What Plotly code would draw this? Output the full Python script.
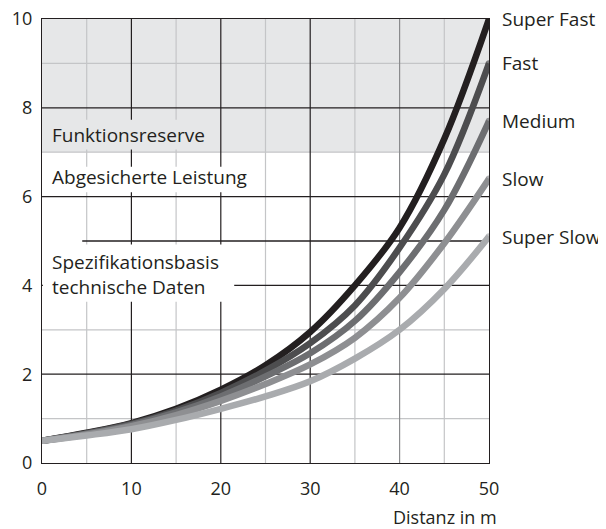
import plotly.graph_objects as go

# ---- data ----
distance = [0, 5, 10, 15, 20, 25, 30, 35, 40, 45, 50]
series_names = ["Super Fast", "Fast", "Medium", "Slow", "Super Slow"]
super_fast = [0.5, 0.68, 0.90, 1.22, 1.65, 2.20, 2.95, 4.00, 5.30, 7.30, 10.0]
fast       = [0.5, 0.67, 0.88, 1.18, 1.58, 2.08, 2.70, 3.55, 4.85, 6.50, 9.0]
medium     = [0.5, 0.66, 0.86, 1.14, 1.50, 1.95, 2.47, 3.20, 4.30, 5.70, 7.7]
slow       = [0.5, 0.64, 0.83, 1.08, 1.40, 1.78, 2.22, 2.82, 3.72, 4.95, 6.4]
super_slow = [0.5, 0.62, 0.76, 0.97, 1.22, 1.50, 1.84, 2.35, 3.00, 3.92, 5.1]
series_values = [super_fast, fast, medium, slow, super_slow]

x_ticks = [0, 10, 20, 30, 40, 50]
y_ticks = [0, 2, 4, 6, 8, 10]
x_minor = [5, 15, 25, 35, 45]
y_minor = [1, 3, 7, 9]

# ---- styles ----
colors = ["#231f20", "#4d4d4f", "#6d6e71", "#8e8f92", "#a9abae"]
dark = "#231f20"
FONT = "Open Sans"
FS = 19
TFS = 18

fig = go.Figure()

for name, vals, col in zip(series_names, series_values, colors):
    n = len(vals)
    fig.add_trace(go.Scatter(
        x=distance, y=vals, name=name, mode="lines+markers",
        line=dict(color=col, width=6.5, shape="spline", smoothing=1.0),
        marker=dict(color=col, size=[6.5 if i in (0, n - 1) else 0 for i in range(n)],
                    line=dict(width=0)),
        showlegend=False, hoverinfo="skip",
    ))

shapes = []
# reserve band
shapes.append(dict(type="rect", xref="x", yref="y", x0=0, x1=50, y0=7, y1=10,
                   fillcolor="#e6e7e8", line=dict(width=0), layer="below"))
# minor grid
for xv in x_minor:
    shapes.append(dict(type="line", xref="x", yref="y", x0=xv, x1=xv, y0=0, y1=10,
                       line=dict(color="#c4c5c7", width=1.2), layer="below"))
for yv in y_minor:
    shapes.append(dict(type="line", xref="x", yref="y", x0=0, x1=50, y0=yv, y1=yv,
                       line=dict(color="#c4c5c7", width=1.2), layer="below"))
# major grid
for xv in x_ticks[1:-1]:
    c = "#8a8b8d" if xv == 40 else dark
    shapes.append(dict(type="line", xref="x", yref="y", x0=xv, x1=xv, y0=0, y1=10,
                       line=dict(color=c, width=1.2), layer="below"))
for yv in y_ticks[1:-1]:
    shapes.append(dict(type="line", xref="x", yref="y", x0=0, x1=50, y0=yv, y1=yv,
                       line=dict(color=dark, width=1.2), layer="below"))
# specification boundary line
shapes.append(dict(type="line", xref="x", yref="y", x0=4.5, x1=50, y0=5, y1=5,
                   line=dict(color=dark, width=1.3), layer="below"))
# label masks
shapes.append(dict(type="rect", xref="x", yref="y", x0=0.1, x1=19, y0=7.06, y1=7.73,
                   fillcolor="#e6e7e8", line=dict(width=0), layer="below"))
shapes.append(dict(type="rect", xref="x", yref="y", x0=0.1, x1=23.5, y0=6.1, y1=6.67,
                   fillcolor="white", line=dict(width=0), layer="below"))
shapes.append(dict(type="rect", xref="x", yref="y", x0=0.1, x1=21.5, y0=3.63, y1=4.92,
                   fillcolor="white", line=dict(width=0), layer="below"))

annotations = []
for name, vals in zip(series_names, series_values):
    annotations.append(dict(x=distance[-1], y=vals[-1], xref="x", yref="y", text=name,
                            showarrow=False, xanchor="left", yanchor="middle", xshift=11,
                            font=dict(family=FONT, size=FS, color=dark)))
zone_labels = [("Funktionsreserve", 7.39), ("Abgesicherte Leistung", 6.45),
               ("Spezifikationsbasis<br>technische Daten", 4.25)]
for txt, yv in zone_labels:
    annotations.append(dict(x=0, y=yv, xref="x", yref="y", text=txt, showarrow=False,
                            xanchor="left", yanchor="middle", xshift=8, align="left",
                            font=dict(family=FONT, size=FS, color=dark)))
annotations.append(dict(x=50, y=-0.121, xref="x", yref="paper", text="Distanz in m",
                        showarrow=False, xanchor="right", yanchor="middle", xshift=10,
                        font=dict(family=FONT, size=TFS, color=dark)))

# page body has an 8px margin, so the figure is laid out 8px smaller
fig.update_layout(
    width=598, height=521,
    margin=dict(l=34, r=117, t=11, b=66, autoexpand=False),
    paper_bgcolor="white", plot_bgcolor="white",
    shapes=shapes, annotations=annotations,
    font=dict(family=FONT, size=FS, color=dark),
)
fig.update_xaxes(range=[0, 50], tickvals=x_ticks, showgrid=False, zeroline=False,
                 showline=True, mirror=True, linecolor=dark, linewidth=1.3,
                 ticks="", ticklabelstandoff=9, automargin=False,
                 ticklabeloverflow="allow",
                 tickfont=dict(family=FONT, size=TFS, color=dark))
fig.update_yaxes(range=[0, 10], tickvals=y_ticks, showgrid=False, zeroline=False,
                 showline=True, mirror=True, linecolor=dark, linewidth=1.3,
                 ticks="", ticklabelstandoff=5, automargin=False,
                 ticklabeloverflow="allow",
                 tickfont=dict(family=FONT, size=TFS, color=dark))

fig.write_html("out.html")
